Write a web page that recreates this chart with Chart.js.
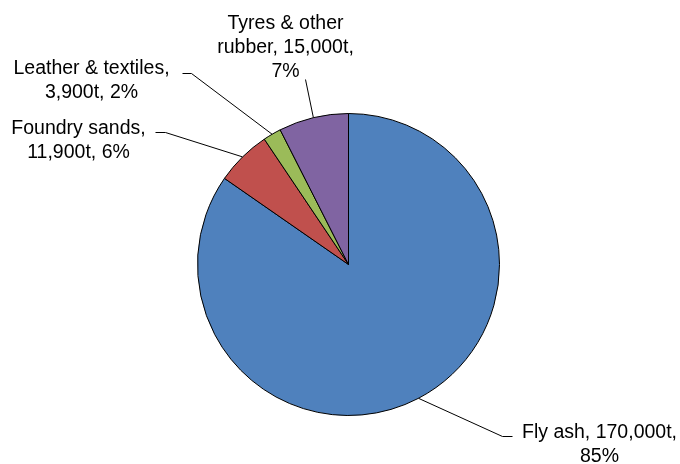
<!DOCTYPE html>
<html>
<head>
<meta charset="utf-8">
<script src="https://cdn.jsdelivr.net/npm/chart.js@4.4.1/dist/chart.umd.min.js"></script>
<style>
    html, body { margin: 0; padding: 0; background: #fff; }
    canvas { display: block; }
</style>
</head>
<body>
<canvas id="wasteChart" width="680" height="464"></canvas>
<script>
const categories = ["Fly ash", "Foundry sands", "Leather & textiles", "Tyres & other rubber"];
const tonnes = [170000, 11900, 3900, 15000];
const sliceColours = ["#4F81BD", "#C0504D", "#9BBB59", "#8064A2"];

// leader elbow relative to the pie centre, horizontal tail after the elbow,
// text anchor (centre x, first baseline) relative to the elbow, wrap width
const labelLayout = [
    { elbow: [154, 172], tail: 10, text: [97, 1], wrap: 170 },
    { elbow: [-183, -132], tail: -10, text: [-87, 1], wrap: 170 },
    { elbow: [-157, -191], tail: -9, text: [-100, 0.5], wrap: 170 },
    { elbow: [-43, -185], tail: 0, text: [-20, -50.5], wrap: 160 },
];

const labelFont = '19.5px "Liberation Sans", Arial, sans-serif';
const lineHeight = 24;

function labelText(i) {
    const total = tonnes.reduce((a, b) => a + b, 0);
    const pct = Math.round((tonnes[i] / total) * 100);
    return `${categories[i]}, ${tonnes[i].toLocaleString("en-US")}t, ${pct}%`;
}

function wrapText(ctx, text, maxWidth) {
    const words = text.split(" ");
    const lines = [];
    let line = "";
    words.forEach((w) => {
        const test = line ? line + " " + w : w;
        if (line && ctx.measureText(test).width > maxWidth) {
            lines.push(line);
            line = w;
        } else {
            line = test;
        }
    });
    if (line) lines.push(line);
    return lines;
}

const leaderLabels = {
    id: "leaderLabels",
    afterDraw(chart) {
        const ctx = chart.ctx;
        const arcs = chart.getDatasetMeta(0).data;
        ctx.save();
        ctx.font = labelFont;
        ctx.fillStyle = "#000";
        ctx.strokeStyle = "#000";
        ctx.lineWidth = 1;
        ctx.textAlign = "center";
        ctx.textBaseline = "alphabetic";
        arcs.forEach((arc, i) => {
            const layout = labelLayout[i];
            const mid = (arc.startAngle + arc.endAngle) / 2;
            const sx = arc.x + Math.cos(mid) * arc.outerRadius;
            const sy = arc.y + Math.sin(mid) * arc.outerRadius;
            const ex = arc.x + layout.elbow[0];
            const ey = arc.y + layout.elbow[1];
            ctx.beginPath();
            ctx.moveTo(sx, sy);
            ctx.lineTo(ex, ey);
            if (layout.tail) ctx.lineTo(ex + layout.tail, ey);
            ctx.stroke();

            const lines = wrapText(ctx, labelText(i), layout.wrap);
            const tx = ex + layout.text[0];
            const ty = ey + layout.text[1];
            lines.forEach((ln, k) => ctx.fillText(ln, tx, ty + k * lineHeight));
        });
        ctx.restore();
    },
};

new Chart(document.getElementById("wasteChart"), {
    type: "pie",
    data: {
        labels: categories,
        datasets: [{
            data: tonnes,
            backgroundColor: sliceColours,
            borderColor: "#000",
            borderWidth: 1,
        }],
    },
    options: {
        responsive: false,
        animation: false,
        layout: { padding: { left: 197, right: 180, top: 113, bottom: 48 } },
        plugins: {
            legend: { display: false },
            tooltip: { enabled: false },
        },
    },
    plugins: [leaderLabels],
});
</script>
</body>
</html>
